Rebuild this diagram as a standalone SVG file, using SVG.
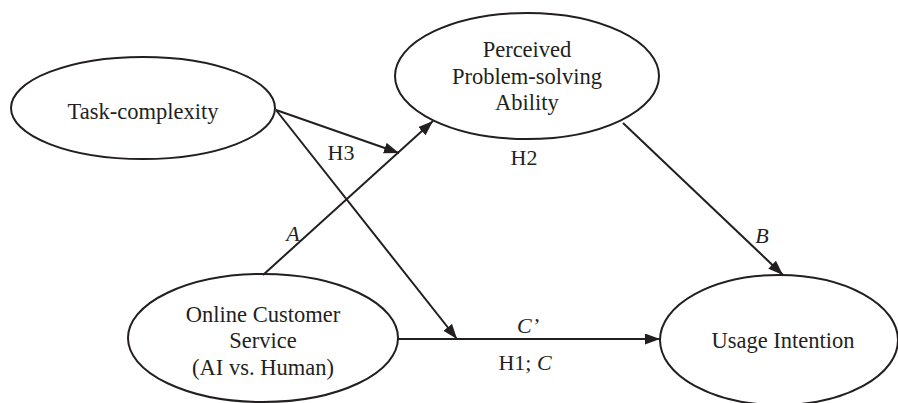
<svg xmlns="http://www.w3.org/2000/svg" width="898" height="403" viewBox="0 0 898 403">
<style>
.node{fill:#fff;stroke:#231f20;stroke-width:2}
.t{font-family:"Liberation Serif","Times New Roman",serif;font-size:22.5px;fill:#231f20;text-anchor:middle}
.lbl{font-family:"Liberation Serif","Times New Roman",serif;font-size:22px;fill:#231f20;text-anchor:middle}
.it{font-style:italic}
.edge{stroke:#231f20;stroke-width:2;fill:none;marker-end:url(#arr)}
</style>
<defs>
<marker id="arr" markerUnits="userSpaceOnUse" markerWidth="16" markerHeight="12" refX="15" refY="5.5" orient="auto">
<path d="M0,0 L15,5.5 L0,11 z" fill="#231f20"/>
</marker>
</defs>
<rect width="898" height="403" fill="#fff"/>
<g id="task-complexity">
<ellipse class="node" cx="143" cy="108" rx="132" ry="51"/>
<text class="t" x="143" y="119">Task-complexity</text>
</g>
<g id="perceived">
<ellipse class="node" cx="527" cy="76" rx="132" ry="63"/>
<text class="t" x="527" y="57">Perceived</text>
<text class="t" x="527" y="84">Problem-solving</text>
<text class="t" x="527" y="110">Ability</text>
</g>
<g id="online-service">
<ellipse class="node" cx="263" cy="338" rx="135" ry="64"/>
<text class="t" x="263" y="322">Online Customer</text>
<text class="t" x="263" y="348">Service</text>
<text class="t" x="263" y="375">(AI vs. Human)</text>
</g>
<g id="usage-intention">
<ellipse class="node" cx="779" cy="340" rx="119" ry="65"/>
<text class="t" x="783" y="348">Usage Intention</text>
</g>
<g id="connectors">
<line class="edge" x1="263" y1="275" x2="433" y2="121"/>
<line class="edge" x1="276" y1="110" x2="399" y2="153"/>
<line class="edge" x1="276" y1="110" x2="457" y2="339"/>
<line class="edge" x1="398" y1="339" x2="660" y2="339"/>
<line class="edge" x1="623" y1="123" x2="783" y2="275"/>
<text class="lbl" x="341" y="160">H3</text>
<text class="lbl" x="524" y="165">H2</text>
<text class="lbl it" x="293" y="241">A</text>
<text class="lbl it" x="762" y="243">B</text>
<text class="lbl it" x="528" y="333">C’</text>
<text class="lbl" x="525" y="370">H1; <tspan class="it">C</tspan></text>
</g>
</svg>
